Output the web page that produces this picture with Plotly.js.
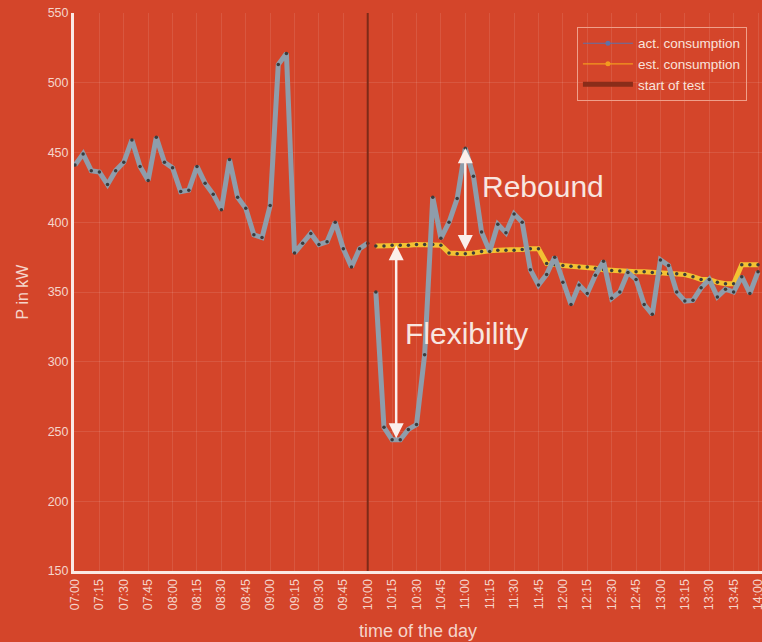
<!DOCTYPE html>
<html>
<head>
<meta charset="utf-8">
<script src="https://cdn.plot.ly/plotly-3.0.1.min.js"></script>
<style>
html,body{margin:0;padding:0;background:#d4452a;}
#chart{width:762px;height:642px;}
</style>
</head>
<body>
<div id="chart"></div>
<script>
var day = '2020-01-01';
var beforeTimes = ['07:00','07:05','07:10','07:15','07:20','07:25','07:30','07:35','07:40','07:45','07:50','07:55',
  '08:00','08:05','08:10','08:15','08:20','08:25','08:30','08:35','08:40','08:45','08:50','08:55',
  '09:00','09:05','09:10','09:15','09:20','09:25','09:30','09:35','09:40','09:45','09:50','09:55','10:00'];
var actBefore = [441,449,437,436,427,437,443,459,440,430,461,443,
  439,422,423,440,428,420,409,445,418,410,391,389,
  412,513,521,378,385,392,384,386,400,381,368,381,385];
var afterTimes = ['10:05','10:10','10:15','10:20','10:25','10:30','10:35','10:40','10:45','10:50','10:55',
  '11:00','11:05','11:10','11:15','11:20','11:25','11:30','11:35','11:40','11:45','11:50','11:55',
  '12:00','12:05','12:10','12:15','12:20','12:25','12:30','12:35','12:40','12:45','12:50','12:55',
  '13:00','13:05','13:10','13:15','13:20','13:25','13:30','13:35','13:40','13:45','13:50','13:55','14:00'];
var actAfter = [350,253,244,244,251.5,255,305,418,388.5,400,417,
  453,433,393,379,398.5,392.5,406,400,366,355,362.6,375,
  357,341,355,349,362,372,345.5,350,364,359,341,334,
  373,369,350,343.5,344,353,359,346.5,352,350,361,349,364.5];
var estAfter = [383,383,383.5,383.5,383.5,384,384,384,383.5,378,377.5,
  377.5,378,379,379.5,380,380,380,380.5,381,381,370.5,369.5,
  369,368.5,368,368,367,366,365.5,365,364.5,364.5,364.5,364,
  363.5,363,363,362.5,361,359,359,357,356,356,369.5,369.5,369.5];
var testStart = '10:00';
var yTicks = [150,200,250,300,350,400,450,500,550];
var seriesNames = ['act. consumption','est. consumption','start of test'];

function t(s){ return day + ' ' + s; }

var bg = '#d4452a';
var light = '#f5d5cb';
var actColor = '#8e9dab';
var estColor = '#f3c233';
var dotColor = '#3b3b3b';

var data = [
  {x: afterTimes.map(t), y: estAfter, mode:'lines+markers', showlegend:false,
   line:{color:estColor, width:5}, marker:{color:dotColor, size:3.5}, hoverinfo:'skip'},
  {x: beforeTimes.map(t), y: actBefore, mode:'lines+markers', showlegend:false,
   line:{color:actColor, width:5}, marker:{color:dotColor, size:3.5}},
  {x: afterTimes.map(t), y: actAfter, mode:'lines+markers', showlegend:false,
   line:{color:actColor, width:5}, marker:{color:dotColor, size:3.5}},
  {x: [t(testStart), t(testStart)], y: [yTicks[0], yTicks[yTicks.length-1]], mode:'lines', showlegend:false,
   line:{color:'#7d2a18', width:2}},
  {x:[null], y:[null], mode:'lines+markers', name:seriesNames[0],
   line:{color:'#5f72a8', width:1.2}, marker:{color:'#5f72a8', size:5}},
  {x:[null], y:[null], mode:'lines+markers', name:seriesNames[1],
   line:{color:'#f39a1e', width:1.2}, marker:{color:'#f39a1e', size:5}},
  {x:[null], y:[null], mode:'lines', name:seriesNames[2],
   line:{color:'#8a2c19', width:5}}
];

var arrowColor = '#fbefeb';
var layout = {
  width:762, height:642,
  margin:{l:74, r:0, t:13, b:71},
  paper_bgcolor:bg, plot_bgcolor:bg,
  font:{family:'Liberation Sans, Arial, sans-serif', color:light, size:12},
  xaxis:{
    type:'date',
    range:[day+' 06:59:23', day+' 14:02:27'],
    tick0:t('07:00'), dtick:900000, tickformat:'%H:%M', tickangle:-90,
    ticklabeloverflow:'allow',
    showgrid:true, gridcolor:'rgba(255,255,255,0.10)', gridwidth:1,
    showline:true, linecolor:'#fbe9e4', linewidth:3,
    zeroline:false, ticks:'', tickfont:{size:12.5, color:light},
    title:{text:'time of the day', font:{size:18, color:light}, standoff:16},
    automargin:false
  },
  yaxis:{
    range:[150,550], tickvals:yTicks,
    showgrid:true, gridcolor:'rgba(255,255,255,0.10)', gridwidth:1,
    showline:true, linecolor:'#fbe9e4', linewidth:3,
    zeroline:false, ticks:'', tickfont:{size:12.5, color:light},
    title:{text:'P in kW', font:{size:16, color:light}, standoff:16},
    automargin:false
  },
  legend:{
    x:0.731, y:0.975, xanchor:'left', yanchor:'top',
    bgcolor:'rgba(0,0,0,0)', bordercolor:'#ef9f8a', borderwidth:1,
    font:{size:13.5, color:'#f9e3dc'}, tracegroupgap:0, itemwidth:50
  },
  showlegend:true,
  annotations:[
    {xref:'x', yref:'y', axref:'x', ayref:'y',
     x:t('10:17:30'), y:383.5, ax:t('10:17:30'), ay:244,
     showarrow:true, arrowside:'end+start', arrowhead:2, startarrowhead:2,
     arrowsize:1.2, startarrowsize:1.2, arrowwidth:2.5, arrowcolor:arrowColor, text:''},
    {xref:'x', yref:'y', axref:'x', ayref:'y',
     x:t('11:00'), y:453, ax:t('11:00'), ay:379,
     showarrow:true, arrowside:'end+start', arrowhead:2, startarrowhead:2,
     arrowsize:1.2, startarrowsize:1.2, arrowwidth:2.5, arrowcolor:arrowColor, text:''},
    {xref:'x', yref:'y', x:t('10:21:30'), y:320.6, xanchor:'left', yanchor:'middle',
     showarrow:false, text:'Flexibility', font:{size:30, color:'#f8e6e0'}},
    {xref:'x', yref:'y', x:t('11:08:50'), y:425.3, xanchor:'left', yanchor:'middle',
     showarrow:false, text:'Rebound', font:{size:30, color:'#f8e6e0'}}
  ]
};

Plotly.newPlot('chart', data, layout, {displayModeBar:false, staticPlot:true});
</script>
</body>
</html>
